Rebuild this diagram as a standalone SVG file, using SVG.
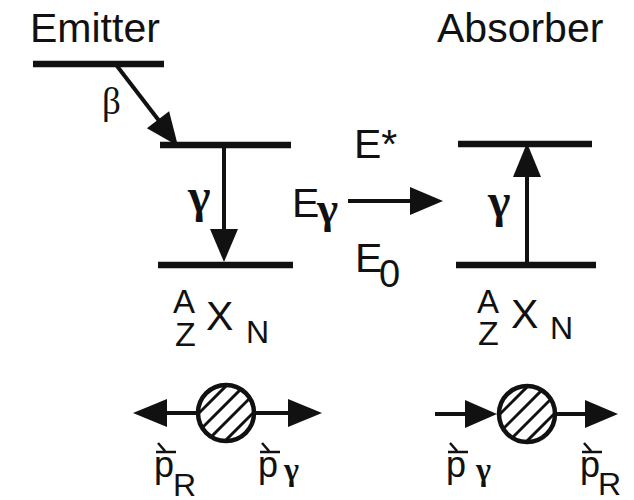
<svg xmlns="http://www.w3.org/2000/svg" width="634" height="500" viewBox="0 0 634 500">
<style>
.t{font-family:"Liberation Sans",Arial,sans-serif;fill:#111}
.g{font-family:"Liberation Serif","Times New Roman",serif;font-weight:bold;fill:#111}
.b{font-family:"Liberation Serif","Times New Roman",serif;font-weight:normal;fill:#111}
.lvl{stroke:#111;stroke-width:6.5;fill:none}
.ln{stroke:#111;stroke-width:4;fill:none}
.hd{fill:#111}
.vec{stroke:#111;stroke-width:2.5;fill:none}
</style>
<defs>
<clipPath id="cc"><circle r="27"/></clipPath>
<g id="ball">
<g clip-path="url(#cc)" stroke="#111" stroke-width="3">
<line x1="13" y1="-40" x2="-67" y2="40"/>
<line x1="31" y1="-40" x2="-49" y2="40"/>
<line x1="49" y1="-40" x2="-31" y2="40"/>
<line x1="67" y1="-40" x2="-13" y2="40"/>
</g>
<circle r="28" fill="none" stroke="#111" stroke-width="4.5"/>
</g>
</defs>
<rect width="634" height="500" fill="#fff"/>

<g id="emitter">
<text class="t" x="30" y="42" font-size="41">Emitter</text>
<line class="lvl" x1="33" y1="64" x2="164" y2="64"/>
<line class="lvl" x1="160" y1="145" x2="291" y2="145"/>
<line class="lvl" x1="158" y1="265" x2="293" y2="265"/>
<text class="b" x="102" y="114" font-size="37">β</text>
<text class="g" x="188" y="212" font-size="48">γ</text>
<text class="t" x="173" y="313" font-size="33">A</text>
<text class="t" x="175" y="346" font-size="34">Z</text>
<text class="t" x="206" y="330" font-size="41">X</text>
<text class="t" x="246" y="343" font-size="32">N</text>
</g>

<g id="absorber">
<text class="t" x="437" y="42" font-size="41">Absorber</text>
<line class="lvl" x1="458" y1="144" x2="592" y2="144"/>
<line class="lvl" x1="456" y1="265" x2="596" y2="265"/>
<text class="g" x="488" y="217" font-size="48">γ</text>
<text class="t" x="477" y="313" font-size="33">A</text>
<text class="t" x="478" y="345" font-size="34">Z</text>
<text class="t" x="511" y="328" font-size="41">X</text>
<text class="t" x="550" y="339" font-size="32">N</text>
</g>

<g id="energies">
<text class="t" x="354" y="158" font-size="41">E*</text>
<text class="t" x="292" y="217" font-size="41">E</text>
<text class="g" x="317" y="223" font-size="45">γ</text>
<text class="t" x="355" y="272" font-size="41">E</text>
<text class="t" x="379" y="287" font-size="38">0</text>
</g>

<g id="emitter-recoil">
<use href="#ball" x="226" y="413"/>
<text class="t" x="154" y="477" font-size="36">p</text>
<text class="t" x="173" y="496" font-size="32">R</text>
<path class="vec" d="M158,443 L165,451 M156,452 L176,452"/>
<text class="t" x="258" y="477" font-size="36">p</text>
<text class="g" x="284" y="480" font-size="32">γ</text>
<path class="vec" d="M262,443 L269,451 M260,452 L280,452"/>
</g>

<g id="absorber-recoil">
<use href="#ball" x="527" y="414"/>
<text class="t" x="446" y="477" font-size="36">p</text>
<text class="g" x="476" y="480" font-size="32">γ</text>
<path class="vec" d="M450,443 L457,451 M448,452 L468,452"/>
<text class="t" x="580" y="477" font-size="36">p</text>
<text class="t" x="598" y="495" font-size="32">R</text>
<path class="vec" d="M584,443 L591,451 M582,452 L602,452"/>
</g>

<g id="connectors">
<line class="ln" x1="117" y1="66" x2="160" y2="122"/>
<polygon class="hd" points="178,146 146.9,128.3 169.1,111.3"/>
<line class="ln" x1="224" y1="148" x2="224" y2="231"/>
<polygon class="hd" points="210,229 238,229 224,262"/>
<line class="ln" x1="527" y1="263" x2="527" y2="175"/>
<polygon class="hd" points="513,177 541,177 527,143"/>
<line class="ln" x1="348" y1="201" x2="412" y2="201"/>
<polygon class="hd" points="410,187 410,215 443,201"/>
<line class="ln" x1="165" y1="413" x2="199" y2="413"/>
<polygon class="hd" points="133,413 167,399 167,427"/>
<line class="ln" x1="253" y1="413" x2="290" y2="413"/>
<polygon class="hd" points="288,399 288,427 322,413"/>
<line class="ln" x1="435" y1="414" x2="467" y2="414"/>
<polygon class="hd" points="465,400 465,428 497,414"/>
<line class="ln" x1="554" y1="414" x2="587" y2="414"/>
<polygon class="hd" points="585,400 585,428 618,414"/>
</g>
</svg>
